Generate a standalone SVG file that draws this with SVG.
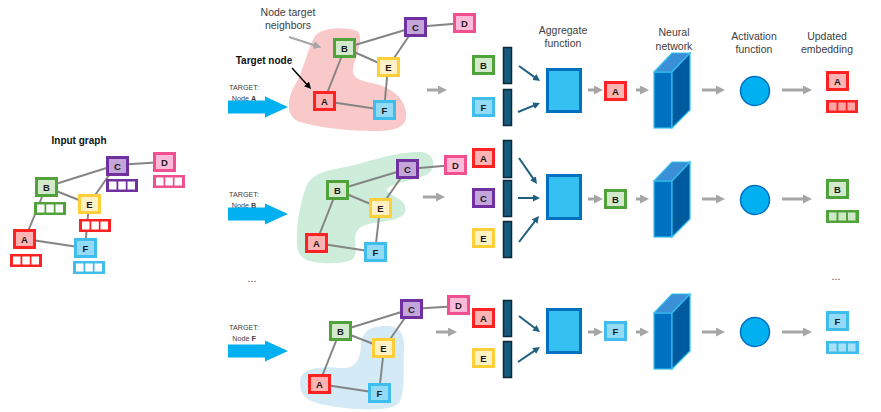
<svg xmlns="http://www.w3.org/2000/svg" width="881" height="412" viewBox="0 0 881 412">
<style>
text{font-family:"Liberation Sans",Arial,sans-serif;fill:#333}
.lbl{font-size:9.5px;font-weight:bold;text-anchor:middle;fill:#1a1a1a}
.cap{font-size:10.5px;text-anchor:middle;fill:#404040}
.bold{font-size:10px;font-weight:bold;text-anchor:middle;fill:#111}
.tg{font-size:7.2px;text-anchor:middle;fill:#404040}
.box{stroke-width:3}
.cA{fill:#ffb3b3;stroke:#ff2222}.cB{fill:#d3e9cb;stroke:#4fa33a}.cC{fill:#c3a5d9;stroke:#7030a0}
.cD{fill:#ffbad8;stroke:#f0508f}.cE{fill:#fff1c4;stroke:#ffcf3a}.cF{fill:#93daf6;stroke:#3fbdec}
.eA{fill:#ff2222}.eB{fill:#4fa33a}.eC{fill:#7030a0}.eD{fill:#f0508f}.eE{fill:#ff2222}.eF{fill:#3fbdec}
.sq{fill:#fff}
.e{stroke:#858585;stroke-width:2;fill:none}
.g{stroke:#a6a6a6;stroke-width:3;fill:none;marker-end:url(#mg)}
.t{stroke:#1f5f80;stroke-width:2;fill:none;marker-end:url(#mt)}
.bar{fill:#165a7c;stroke:#0a2a3c;stroke-width:1.5}
.agg{fill:#35c0f2;stroke:#0070c0;stroke-width:3}
.nnf{fill:#0070c0;stroke:#33bff0;stroke-width:1.2}
.nnt{fill:#3a8fd6;stroke:#33bff0;stroke-width:1.2}
.nnr{fill:#005a9e;stroke:#33bff0;stroke-width:1.2}
.act{fill:#00b0f0;stroke:#0070c0;stroke-width:1.5}
.tarr{fill:#00b0f0}
</style>
<defs>
<marker id="mg" viewBox="0 0 10 10" markerUnits="userSpaceOnUse" markerWidth="9" markerHeight="9" refX="3.3" refY="5" orient="auto"><path d="M0,0 L10,5 L0,10 z" fill="#a6a6a6"/></marker>
<marker id="mt" viewBox="0 0 10 10" markerUnits="userSpaceOnUse" markerWidth="7" markerHeight="7" refX="4" refY="5" orient="auto"><path d="M0,0 L10,5 L0,10 z" fill="#1f5f80"/></marker>
<marker id="mk" viewBox="0 0 10 10" markerUnits="userSpaceOnUse" markerWidth="7" markerHeight="7" refX="3" refY="5" orient="auto"><path d="M0,0 L10,5 L0,10 z" fill="#000"/></marker>
<marker id="mn" viewBox="0 0 10 10" markerUnits="userSpaceOnUse" markerWidth="8" markerHeight="8" refX="3" refY="5" orient="auto"><path d="M0,0 L10,5 L0,10 z" fill="#a6a6a6"/></marker>
</defs>

<!-- blobs -->
<path d="M315,36 C320,28 345,26 357,31 C364,36 358,52 354,64 C350,76 356,80 372,83 C392,87 404,98 406,112 C408,126 398,131 375,131 C350,131 320,128 300,122 C285,117 287,98 295,85 C303,72 308,48 315,36 Z" fill="#f9c9c9"/>
<path d="M305,190 C310,172 330,170 350,166 C375,160 395,152 420,152 C435,152 437,168 428,174 C418,180 395,182 388,188 C382,194 402,196 405,206 C408,216 398,220 380,222 C362,224 355,228 355,240 C355,252 362,262 335,263 C310,264 298,260 297,245 C296,225 300,205 305,190 Z" fill="#cdecd9"/>
<path d="M300,382 C300,368 320,366 340,368 C356,369 360,360 361,345 C362,330 372,326 385,326 C400,326 405,333 404,350 C403,372 406,395 398,404 C388,412 350,410 325,405 C305,401 300,395 300,382 Z" fill="#d4eaf6"/>

<!-- texts -->
<text class="bold" x="79" y="144">Input graph</text>
<text class="cap" x="288" y="16">Node target</text>
<text class="cap" x="288" y="29">neighbors</text>
<text class="bold" x="264" y="64">Target node</text>
<text class="tg" x="244" y="89.5">TARGET:</text>
<text class="tg" x="244" y="101">Node <tspan font-weight="bold">A</tspan></text>
<text class="tg" x="244" y="196.5">TARGET:</text>
<text class="tg" x="244" y="207.5">Node <tspan font-weight="bold">B</tspan></text>
<text class="tg" x="244" y="329.5">TARGET:</text>
<text class="tg" x="244" y="340.5">Node <tspan font-weight="bold">F</tspan></text>
<text class="cap" x="252" y="282">...</text>
<text class="cap" x="836" y="280">...</text>
<text class="cap" x="563" y="34">Aggregate</text>
<text class="cap" x="563" y="47">function</text>
<text class="cap" x="674" y="36">Neural</text>
<text class="cap" x="674" y="50">network</text>
<text class="cap" x="754" y="40">Activation</text>
<text class="cap" x="754" y="53">function</text>
<text class="cap" x="827" y="40" text-anchor="start">Updated</text>
<text class="cap" x="827" y="53" text-anchor="start">embedding</text>

<!-- connectors -->
<g id="connectors">
<line class="e" x1="25" y1="239" x2="46" y2="187"/>
<line class="e" x1="25" y1="239" x2="85" y2="248"/>
<line class="e" x1="46" y1="187" x2="116" y2="165"/>
<line class="e" x1="46" y1="187" x2="89" y2="204"/>
<line class="e" x1="116" y1="165" x2="89" y2="204"/>
<line class="e" x1="89" y1="204" x2="85" y2="248"/>
<line class="e" x1="116" y1="165" x2="164" y2="162"/>
<line class="e" x1="324" y1="101" x2="345" y2="48"/>
<line class="e" x1="324" y1="101" x2="384" y2="110"/>
<line class="e" x1="345" y1="48" x2="415" y2="27"/>
<line class="e" x1="345" y1="48" x2="388" y2="67"/>
<line class="e" x1="415" y1="27" x2="388" y2="67"/>
<line class="e" x1="388" y1="67" x2="384" y2="110"/>
<line class="e" x1="415" y1="27" x2="464" y2="23"/>
<line class="e" x1="316" y1="243" x2="337" y2="190"/>
<line class="e" x1="316" y1="243" x2="375" y2="252"/>
<line class="e" x1="337" y1="190" x2="407" y2="169"/>
<line class="e" x1="337" y1="190" x2="380" y2="208"/>
<line class="e" x1="407" y1="169" x2="380" y2="208"/>
<line class="e" x1="380" y1="208" x2="375" y2="252"/>
<line class="e" x1="407" y1="169" x2="455" y2="165"/>
<line class="e" x1="319" y1="384" x2="340" y2="331"/>
<line class="e" x1="319" y1="384" x2="379" y2="393"/>
<line class="e" x1="340" y1="331" x2="411" y2="309"/>
<line class="e" x1="340" y1="331" x2="384" y2="348"/>
<line class="e" x1="411" y1="309" x2="384" y2="348"/>
<line class="e" x1="384" y1="348" x2="379" y2="393"/>
<line class="e" x1="411" y1="309" x2="459" y2="306"/>
<line x1="289" y1="37" x2="316" y2="45.7" stroke="#a6a6a6" stroke-width="2" marker-end="url(#mn)"/>
<line x1="292" y1="68" x2="307.8" y2="85.4" stroke="#000" stroke-width="1.5" marker-end="url(#mk)"/>
<polygon class="tarr" points="228,100.5 265,100.5 265,96.5 288,107 265,117.5 265,113.5 228,113.5"/>
<polygon class="tarr" points="228,207.5 265,207.5 265,203.5 288,214 265,224.5 265,220.5 228,220.5"/>
<polygon class="tarr" points="228,344.5 265,344.5 265,340.5 288,351 265,361.5 265,357.5 228,357.5"/>
<line class="g" x1="427" y1="90" x2="441" y2="90"/>
<line class="g" x1="588" y1="90" x2="597" y2="90"/>
<line class="g" x1="636" y1="90" x2="643" y2="90"/>
<line class="g" x1="702" y1="90" x2="719" y2="90"/>
<line class="g" x1="782" y1="90" x2="806" y2="90"/>
<line class="g" x1="423" y1="197" x2="439" y2="197"/>
<line class="g" x1="588" y1="199" x2="597" y2="199"/>
<line class="g" x1="636" y1="199" x2="643" y2="199"/>
<line class="g" x1="702" y1="199" x2="719" y2="199"/>
<line class="g" x1="782" y1="199" x2="806" y2="199"/>
<line class="g" x1="436" y1="332" x2="451" y2="332"/>
<line class="g" x1="588" y1="332" x2="597" y2="332"/>
<line class="g" x1="636" y1="332" x2="643" y2="332"/>
<line class="g" x1="702" y1="332" x2="719" y2="332"/>
<line class="g" x1="782" y1="332" x2="806" y2="332"/>
<line class="t" x1="519" y1="66" x2="536.6" y2="78.6"/>
<line class="t" x1="518" y1="112" x2="536.1" y2="104.6"/>
<line class="t" x1="519" y1="158" x2="534.6" y2="180.6"/>
<line class="t" x1="518" y1="198" x2="535.8" y2="198"/>
<line class="t" x1="519" y1="242" x2="536.4" y2="219.3"/>
<line class="t" x1="519" y1="316" x2="536.7" y2="329.5"/>
<line class="t" x1="518" y1="362" x2="536.5" y2="349.4"/>
</g>

<!-- input graph nodes -->
<g id="in-A" transform="translate(13,229)"><rect class="box cA" x="1.5" y="1.5" width="20" height="17"/><text class="lbl" x="11.5" y="13.5">A</text><g transform="translate(-3,25)"><rect class="eA" width="32" height="13"/><rect class="sq" x="3" y="2.5" width="7.5" height="8"/><rect class="sq" x="12.3" y="2.5" width="7.5" height="8"/><rect class="sq" x="21.5" y="2.5" width="7.5" height="8"/></g></g>
<g id="in-B" transform="translate(35,177)"><rect class="box cB" x="1.5" y="1.5" width="20" height="17"/><text class="lbl" x="11.5" y="13.5">B</text><g transform="translate(-1,25)"><rect class="eB" width="32" height="13"/><rect class="sq" x="3" y="2.5" width="7.5" height="8"/><rect class="sq" x="12.3" y="2.5" width="7.5" height="8"/><rect class="sq" x="21.5" y="2.5" width="7.5" height="8"/></g></g>
<g id="in-C" transform="translate(106,156)"><rect class="box cC" x="1.5" y="1.5" width="20" height="17"/><text class="lbl" x="11.5" y="13.5">C</text><g transform="translate(0,23)"><rect class="eC" width="32" height="13"/><rect class="sq" x="3" y="2.5" width="7.5" height="8"/><rect class="sq" x="12.3" y="2.5" width="7.5" height="8"/><rect class="sq" x="21.5" y="2.5" width="7.5" height="8"/></g></g>
<g id="in-D" transform="translate(153,152)"><rect class="box cD" x="1.5" y="1.5" width="20" height="17"/><text class="lbl" x="11.5" y="13.5">D</text><g transform="translate(0,23)"><rect class="eD" width="32" height="13"/><rect class="sq" x="3" y="2.5" width="7.5" height="8"/><rect class="sq" x="12.3" y="2.5" width="7.5" height="8"/><rect class="sq" x="21.5" y="2.5" width="7.5" height="8"/></g></g>
<g id="in-E" transform="translate(78,194)"><rect class="box cE" x="1.5" y="1.5" width="20" height="17"/><text class="lbl" x="11.5" y="13.5">E</text><g transform="translate(1,25)"><rect class="eE" width="32" height="13"/><rect class="sq" x="3" y="2.5" width="7.5" height="8"/><rect class="sq" x="12.3" y="2.5" width="7.5" height="8"/><rect class="sq" x="21.5" y="2.5" width="7.5" height="8"/></g></g>
<g id="in-F" transform="translate(74,238)"><rect class="box cF" x="1.5" y="1.5" width="20" height="17"/><text class="lbl" x="11.5" y="13.5">F</text><g transform="translate(-1,23)"><rect class="eF" width="32" height="13"/><rect class="sq" x="3" y="2.5" width="7.5" height="8"/><rect class="sq" x="12.3" y="2.5" width="7.5" height="8"/><rect class="sq" x="21.5" y="2.5" width="7.5" height="8"/></g></g>

<!-- top row -->
<g id="r1-A" transform="translate(313,91)"><rect class="box cA" x="1.5" y="1.5" width="20" height="17"/><text class="lbl" x="11.5" y="13.5">A</text></g>
<g id="r1-B" transform="translate(333,38)"><rect class="box cB" x="1.5" y="1.5" width="20" height="17"/><text class="lbl" x="11.5" y="13.5">B</text></g>
<g id="r1-C" transform="translate(404,17)"><rect class="box cC" x="1.5" y="1.5" width="20" height="17"/><text class="lbl" x="11.5" y="13.5">C</text></g>
<g id="r1-D" transform="translate(453,13)"><rect class="box cD" x="1.5" y="1.5" width="20" height="17"/><text class="lbl" x="11.5" y="13.5">D</text></g>
<g id="r1-E" transform="translate(377,57)"><rect class="box cE" x="1.5" y="1.5" width="20" height="17"/><text class="lbl" x="11.5" y="13.5">E</text></g>
<g id="r1-F" transform="translate(373,100)"><rect class="box cF" x="1.5" y="1.5" width="20" height="17"/><text class="lbl" x="11.5" y="13.5">F</text></g>
<g id="r1-inB" transform="translate(472,55)"><rect class="box cB" x="1.5" y="1.5" width="20" height="17"/><text class="lbl" x="11.5" y="13.5">B</text></g>
<g id="r1-inF" transform="translate(472,97)"><rect class="box cF" x="1.5" y="1.5" width="20" height="17"/><text class="lbl" x="11.5" y="13.5">F</text></g>
<g id="r1-bars"><rect class="bar" x="503.5" y="47.5" width="8" height="36"/><rect class="bar" x="503.5" y="89.5" width="8" height="36"/></g>
<g id="r1-agg"><rect class="agg" x="547.5" y="69.5" width="33" height="42"/></g>
<g id="r1-out" transform="translate(604,81)"><rect class="box cA" x="1.5" y="1.5" width="20" height="17"/><text class="lbl" x="11.5" y="13.5">A</text></g>
<g id="r1-nn"><rect class="nnf" x="654" y="72" width="18" height="56"/><polygon class="nnt" points="654,72 672,53 690,53 672,72"/><polygon class="nnr" points="672,72 690,53 690,110 672,128"/></g>
<g id="r1-act"><circle class="act" cx="755" cy="91" r="14.5"/></g>
<g id="r1-upd" transform="translate(826,71)"><rect class="box cA" x="1.5" y="1.5" width="20" height="17"/><text class="lbl" x="11.5" y="13.5">A</text><g transform="translate(0,29)"><rect class="eA" width="32" height="13"/><rect fill="#ffa3a3" x="3" y="2.5" width="7.5" height="8"/><rect fill="#ffa3a3" x="12.3" y="2.5" width="7.5" height="8"/><rect fill="#ffa3a3" x="21.5" y="2.5" width="7.5" height="8"/></g></g>

<!-- middle row -->
<g id="r2-A" transform="translate(305,233)"><rect class="box cA" x="1.5" y="1.5" width="20" height="17"/><text class="lbl" x="11.5" y="13.5">A</text></g>
<g id="r2-B" transform="translate(326,180)"><rect class="box cB" x="1.5" y="1.5" width="20" height="17"/><text class="lbl" x="11.5" y="13.5">B</text></g>
<g id="r2-C" transform="translate(396,159)"><rect class="box cC" x="1.5" y="1.5" width="20" height="17"/><text class="lbl" x="11.5" y="13.5">C</text></g>
<g id="r2-D" transform="translate(444,155)"><rect class="box cD" x="1.5" y="1.5" width="20" height="17"/><text class="lbl" x="11.5" y="13.5">D</text></g>
<g id="r2-E" transform="translate(369,198)"><rect class="box cE" x="1.5" y="1.5" width="20" height="17"/><text class="lbl" x="11.5" y="13.5">E</text></g>
<g id="r2-F" transform="translate(364,242)"><rect class="box cF" x="1.5" y="1.5" width="20" height="17"/><text class="lbl" x="11.5" y="13.5">F</text></g>
<g id="r2-inA" transform="translate(472,148)"><rect class="box cA" x="1.5" y="1.5" width="20" height="17"/><text class="lbl" x="11.5" y="13.5">A</text></g>
<g id="r2-inC" transform="translate(472,188)"><rect class="box cC" x="1.5" y="1.5" width="20" height="17"/><text class="lbl" x="11.5" y="13.5">C</text></g>
<g id="r2-inE" transform="translate(472,228)"><rect class="box cE" x="1.5" y="1.5" width="20" height="17"/><text class="lbl" x="11.5" y="13.5">E</text></g>
<g id="r2-bars"><rect class="bar" x="503.5" y="140.5" width="8" height="37"/><rect class="bar" x="503.5" y="180.5" width="8" height="36"/><rect class="bar" x="503.5" y="221.5" width="8" height="36"/></g>
<g id="r2-agg"><rect class="agg" x="547.5" y="175.5" width="33" height="43"/></g>
<g id="r2-out" transform="translate(604,189)"><rect class="box cB" x="1.5" y="1.5" width="20" height="17"/><text class="lbl" x="11.5" y="13.5">B</text></g>
<g id="r2-nn"><rect class="nnf" x="654" y="181" width="18" height="56"/><polygon class="nnt" points="654,181 672,162 690,162 672,181"/><polygon class="nnr" points="672,181 690,162 690,219 672,237"/></g>
<g id="r2-act"><circle class="act" cx="755" cy="200" r="14.5"/></g>
<g id="r2-upd" transform="translate(826,179)"><rect class="box cB" x="1.5" y="1.5" width="20" height="17"/><text class="lbl" x="11.5" y="13.5">B</text><g transform="translate(0,31)"><rect class="eB" width="33" height="13"/><rect fill="#cfe8c6" x="3" y="2.5" width="7.5" height="8"/><rect fill="#cfe8c6" x="12.5" y="2.5" width="7.5" height="8"/><rect fill="#cfe8c6" x="22" y="2.5" width="7.5" height="8"/></g></g>

<!-- bottom row -->
<g id="r3-A" transform="translate(308,374)"><rect class="box cA" x="1.5" y="1.5" width="20" height="17"/><text class="lbl" x="11.5" y="13.5">A</text></g>
<g id="r3-B" transform="translate(329,321)"><rect class="box cB" x="1.5" y="1.5" width="20" height="17"/><text class="lbl" x="11.5" y="13.5">B</text></g>
<g id="r3-C" transform="translate(400,299)"><rect class="box cC" x="1.5" y="1.5" width="20" height="17"/><text class="lbl" x="11.5" y="13.5">C</text></g>
<g id="r3-D" transform="translate(447,295)"><rect class="box cD" x="1.5" y="1.5" width="20" height="17"/><text class="lbl" x="11.5" y="13.5">D</text></g>
<g id="r3-E" transform="translate(372,338)"><rect class="box cE" x="1.5" y="1.5" width="20" height="17"/><text class="lbl" x="11.5" y="13.5">E</text></g>
<g id="r3-F" transform="translate(368,383)"><rect class="box cF" x="1.5" y="1.5" width="20" height="17"/><text class="lbl" x="11.5" y="13.5">F</text></g>
<g id="r3-inA" transform="translate(472,308)"><rect class="box cA" x="1.5" y="1.5" width="20" height="17"/><text class="lbl" x="11.5" y="13.5">A</text></g>
<g id="r3-inE" transform="translate(472,348)"><rect class="box cE" x="1.5" y="1.5" width="20" height="17"/><text class="lbl" x="11.5" y="13.5">E</text></g>
<g id="r3-bars"><rect class="bar" x="503.5" y="300.5" width="8" height="36"/><rect class="bar" x="503.5" y="341.5" width="8" height="36"/></g>
<g id="r3-agg"><rect class="agg" x="547.5" y="309.5" width="33" height="43"/></g>
<g id="r3-out" transform="translate(604,321)"><rect class="box cF" x="1.5" y="1.5" width="20" height="17"/><text class="lbl" x="11.5" y="13.5">F</text></g>
<g id="r3-nn"><rect class="nnf" x="654" y="313" width="18" height="56"/><polygon class="nnt" points="654,313 672,294 690,294 672,313"/><polygon class="nnr" points="672,313 690,294 690,351 672,369"/></g>
<g id="r3-act"><circle class="act" cx="755" cy="332" r="14.5"/></g>
<g id="r3-upd" transform="translate(826,311)"><rect class="box cF" x="1.5" y="1.5" width="20" height="17"/><text class="lbl" x="11.5" y="13.5">F</text><g transform="translate(0,30)"><rect class="eF" width="33" height="13"/><rect fill="#a8e0f7" x="3" y="2.5" width="7.5" height="8"/><rect fill="#a8e0f7" x="12.5" y="2.5" width="7.5" height="8"/><rect fill="#a8e0f7" x="22" y="2.5" width="7.5" height="8"/></g></g>
</svg>
